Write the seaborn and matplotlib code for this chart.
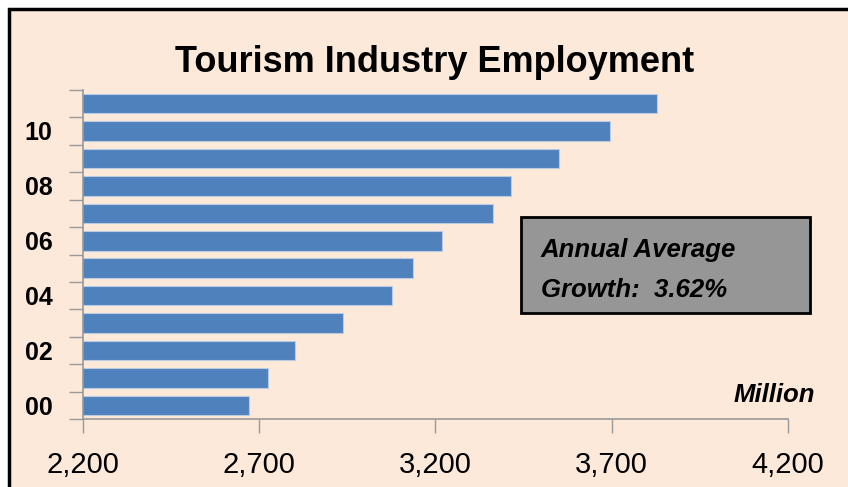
import matplotlib
matplotlib.use("Agg")
import matplotlib.pyplot as plt
import seaborn as sns
import pandas as pd
from matplotlib.patches import Rectangle
from matplotlib.ticker import FuncFormatter, FixedLocator

# data (million)
years = ["00", "01", "02", "03", "04", "05", "06", "07", "08", "09", "10", "11"]
employment = [2671, 2725, 2802, 2939, 3076, 3136, 3218, 3362, 3415, 3550, 3696, 3827]
x_ticks = [2200, 2700, 3200, 3700, 4200]
title = "Tourism Industry Employment"
note_lines = ["Annual Average", "Growth:  3.62%"]

peach = "#FDE9D9"
bar_blue = "#4F81BD"
axis_gray = "#999999"

sns.set_style("white")
plt.rcParams["font.family"] = ["Liberation Sans", "DejaVu Sans"]
plt.rcParams["text.color"] = "black"
plt.rcParams["xtick.color"] = "black"
plt.rcParams["ytick.color"] = "black"

df = pd.DataFrame({"year": years, "employment": employment})
order = years[::-1]  # latest year on top

fig = plt.figure(figsize=(8.48, 4.87), dpi=100)
fig.patch.set_facecolor("white")
# slide background with black frame (runs off the right/bottom edge)
fig.patches.append(Rectangle((8.5 / 848, -0.05), 1.0, (487 - 8.5) / 487 + 0.05,
                             transform=fig.transFigure, facecolor=peach,
                             edgecolor="black", linewidth=2.5, zorder=-1))

ax = fig.add_axes([83 / 848, 67.7 / 487, 705 / 848, 329.6 / 487])
ax.set_facecolor("none")

sns.barplot(data=df, x="employment", y="year", order=order, orient="h",
            color=bar_blue, saturation=1, width=0.71,
            edgecolor="#b8cbe2", linewidth=0.8, ax=ax)

ax.set_xlim(2200, 4200)
ax.set_ylim(len(order) - 0.5, -0.5)
ax.set_xlabel("")
ax.set_ylabel("")

# x axis
ax.xaxis.set_major_locator(FixedLocator(x_ticks))
ax.xaxis.set_major_formatter(FuncFormatter(lambda v, p: f"{int(v):,}"))
ax.tick_params(axis="x", which="major", direction="out", length=10, width=1,
               color=axis_gray, labelcolor="black", pad=13, labelsize=21, bottom=True)

# y axis: labels on even years, tick marks between categories
ax.set_yticks(range(len(order)))
ax.set_yticklabels([y if int(y) % 2 == 0 else "" for y in order],
                   fontweight="bold", fontsize=18)
ax.set_yticks([i - 0.5 for i in range(len(order) + 1)], minor=True)
ax.tick_params(axis="y", which="major", length=0, pad=22, labelcolor="black")
ax.tick_params(axis="y", which="minor", direction="out", length=10, width=1,
               color=axis_gray, left=True)

for side in ["top", "right"]:
    ax.spines[side].set_visible(False)
for side in ["left", "bottom"]:
    ax.spines[side].set_color(axis_gray)
    ax.spines[side].set_linewidth(1.2)

fig.text(0.512, 1 - 72 / 487, title, ha="center", va="baseline",
         fontsize=26, fontweight="bold")

# growth note box
fig.patches.append(Rectangle((521 / 848, 1 - 313.3 / 487), 288.5 / 848, 96.6 / 487,
                             transform=fig.transFigure, facecolor="#969696",
                             edgecolor="black", linewidth=2, zorder=3))
for line, base in zip(note_lines, [257, 297]):
    fig.text(541 / 848, 1 - base / 487, line, ha="left", va="baseline",
             fontsize=18.5, fontweight="bold", fontstyle="italic", zorder=4)

fig.text(815 / 848, 1 - 401.7 / 487, "Million", ha="right", va="baseline",
         fontsize=18.5, fontweight="bold", fontstyle="italic")

fig.savefig("out.png", dpi=100)
